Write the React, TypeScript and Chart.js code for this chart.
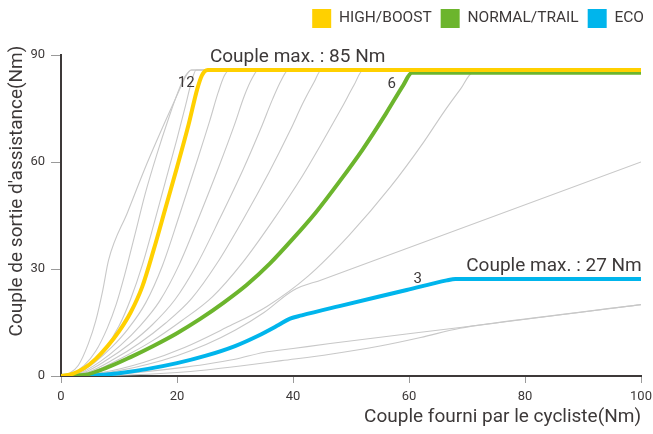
import React, { useEffect, useRef } from 'react';
import { Chart, registerables } from 'chart.js';

Chart.register(...registerables);

// ---- legend / text ----
const LEGEND_NAMES = ['HIGH/BOOST', 'NORMAL/TRAIL', 'ECO'];
const X_TITLE = 'Couple fourni par le cycliste(Nm)';
const Y_TITLE = "Couple de sortie d'assistance(Nm)";
const LEVEL_LABELS = ['12', '6', '3'];
const MAX_LABELS = ['Couple max. : 85 Nm', 'Couple max. : 27 Nm'];

// ---- ticks ----
const X_TICKS = [0, 20, 40, 60, 80, 100];
const Y_TICKS = [0, 30, 60, 90];

// ---- highlighted modes ----
const HIGH_X = [0, 2, 4, 6, 8, 10, 12, 14, 16, 18, 20, 22, 23.5, 24.3, 25.3, 100];
const HIGH_Y = [0, 0.6, 2.2, 4.8, 8.3, 12.5, 17.8, 25, 35.5, 47, 58.5, 70.5, 80.5, 84.3, 85.8, 85.8];

const NORMAL_X = [0, 4, 8, 12, 16, 20, 24, 28, 32, 36, 40, 44, 48, 52, 56, 59, 60.5, 100];
const NORMAL_Y = [0, 0.3, 2.4, 5.3, 8.5, 12, 16, 20.5, 25.5, 31.5, 38.5, 46, 54.5, 63.5, 73.5, 81.5, 85, 85];

const ECO_X = [0, 6, 10, 15, 20, 25, 30, 34, 37.5, 39.5, 41.5, 48, 59.6, 66.5, 68, 100];
const ECO_Y = [0, 0.2, 0.8, 2, 3.6, 5.7, 8.4, 11.3, 14.3, 16.1, 17, 19.6, 24.1, 26.8, 27.2, 27.2];

// ---- other assist levels (grey) ----
const LV15_X = [0, 1.5, 3, 4.7, 6, 7.2, 8.2, 11.5, 14.8, 18, 20.5, 21.5, 22.5, 100];
const LV15_Y = [0, 0.8, 3, 9, 15.5, 24, 32.5, 46, 59.5, 71.5, 80.5, 84, 85.8, 85.8];
const LV14_X = [0, 2, 4, 6, 8, 9.5, 11, 12.8, 14.5, 16.5, 18.5, 20.5, 21.5, 22.5, 100];
const LV14_Y = [0, 0.8, 3, 7, 13.5, 20, 28.5, 40, 51, 62, 72, 81, 84.3, 85.8, 85.8];
const LV13_X = [0, 2.5, 5, 7.5, 10, 12, 14, 16, 18, 20, 21.5, 22.5, 23.3, 100];
const LV13_Y = [0, 0.8, 3.2, 7.5, 14, 21.5, 31, 42.5, 54.5, 66.5, 76, 82.5, 85.8, 85.8];
const LV11_X = [0, 2.9, 5.8, 8.7, 11.6, 14.6, 17.5, 20.4, 23.3, 25.6, 27.1, 28.2, 29.1, 100];
const LV11_Y = [0, 0.8, 3.8, 8, 13.3, 20.5, 31, 45, 59.5, 71.3, 79.5, 84.3, 85.8, 85.8];
const LV10_X = [0, 3.4, 6.8, 10.2, 13.6, 17, 20.4, 23.8, 27.2, 29.9, 31.6, 33, 34, 100];
const LV10_Y = [0, 0.9, 4.1, 8.5, 14, 21, 31.3, 44.6, 58.6, 70.4, 78.5, 83.6, 85.8, 85.8];
const LV9_X = [0, 3.9, 7.8, 11.8, 15.7, 19.6, 23.5, 27.4, 31.4, 34.5, 36.5, 38, 39.2, 100];
const LV9_Y = [0, 0.95, 4.4, 8.9, 14.3, 21.3, 31.5, 44.2, 57.9, 69.6, 77.7, 83, 85.8, 85.8];
const LV8_X = [0, 4.5, 9, 13.5, 18, 22.5, 26.9, 31.4, 35.9, 39.5, 41.8, 43.6, 44.9, 100];
const LV8_Y = [0, 1, 4.6, 9.2, 14.8, 21.7, 31.6, 43.9, 57.2, 68.8, 76.8, 82.3, 85.8, 85.8];
const LV7_X = [0, 5.2, 10.4, 15.6, 20.8, 26.1, 31.3, 36.5, 41.7, 45.8, 48.5, 50.5, 52.1, 100];
const LV7_Y = [0, 1.1, 5, 9.7, 15.5, 22.2, 31.8, 43.5, 56.3, 67.7, 75.5, 81.5, 85.8, 85.8];
const LV5_X = [0, 7.1, 14.2, 21.3, 28.4, 35.5, 42.6, 49.7, 56.8, 62.5, 66, 68.9, 71, 100];
const LV5_Y = [0, 1, 3.8, 8, 13.5, 19.5, 28, 39.5, 53, 65.5, 74, 80.5, 85, 85];
const LV4_X = [0, 5, 10, 15, 20, 25, 30, 35, 40, 45, 100];
const LV4_Y = [0, 0.3, 1.5, 3.3, 5.7, 8.8, 12.8, 17.8, 24, 27, 60];
const LV2_X = [0, 5, 10, 15, 20, 25, 30, 34.9, 40, 46.4, 68.8, 100];
const LV2_Y = [0, 0.15, 0.6, 1.3, 2.2, 3.3, 4.7, 6.6, 7.7, 9.1, 13.6, 20];
const LV1_X = [0, 10, 20, 25, 30.9, 38, 46.4, 55, 62, 68.8, 75, 100];
const LV1_Y = [0, 0.2, 1, 1.7, 2.8, 4.3, 6.1, 8.4, 10.8, 13.4, 14.9, 20];

const GREY_SERIES: [number[], number[]][] = [
  [LV15_X, LV15_Y], [LV14_X, LV14_Y], [LV13_X, LV13_Y], [LV11_X, LV11_Y],
  [LV10_X, LV10_Y], [LV9_X, LV9_Y], [LV8_X, LV8_Y], [LV7_X, LV7_Y],
  [LV5_X, LV5_Y], [LV4_X, LV4_Y], [LV2_X, LV2_Y], [LV1_X, LV1_Y],
];

// ---- styles / layout ----
const YELLOW = '#FFD000';
const GREEN = '#6CB52D';
const BLUE = '#00B5EC';
const GREY = '#C8C8C8';
const TEXT = '#3d3939';
const FONT = 'Roboto';

// annotation anchors (data coords)
const LEVEL_POS = [[21.6, 81.1], [57.0, 80.7], [61.5, 26.2]];
const MAX_POS = [[40.8, 88.1], [85.0, 29.5]];

export default function App() {
  const ref = useRef<HTMLCanvasElement>(null);

  useEffect(() => {
    const canvas = ref.current;
    if (!canvas) return;
    const pts = (xs: number[], ys: number[]) => xs.map((x, i) => ({ x, y: ys[i] }));

    const common = { pointRadius: 0, pointHoverRadius: 0, cubicInterpolationMode: 'monotone' as const, borderJoinStyle: 'round' as const, fill: false };
    const mainSets = [
      { label: LEGEND_NAMES[0], data: pts(HIGH_X, HIGH_Y), borderColor: YELLOW, backgroundColor: YELLOW, borderWidth: 4, ...common },
      { label: LEGEND_NAMES[1], data: pts(NORMAL_X, NORMAL_Y), borderColor: GREEN, backgroundColor: GREEN, borderWidth: 4, ...common },
      { label: LEGEND_NAMES[2], data: pts(ECO_X, ECO_Y), borderColor: BLUE, backgroundColor: BLUE, borderWidth: 4, ...common },
    ];
    const greySets = GREY_SERIES.map(([xs, ys]) => ({
      label: '', data: pts(xs, ys), borderColor: GREY, backgroundColor: GREY, borderWidth: 1.1, ...common,
    }));

    const legendGap = {
      id: 'legendGap',
      beforeInit(chart: any) {
        const l = chart.legend;
        if (!l) return;
        const fit = l.fit;
        l.fit = function () {
          fit.call(this);
          this.height += 17;
        };
      },
    };

    const texts = {
      id: 'texts',
      afterDatasetsDraw(chart: any) {
        const { ctx, scales } = chart;
        const xs = scales.x, ys = scales.y;
        ctx.save();
        ctx.fillStyle = TEXT;
        ctx.textAlign = 'center';
        ctx.textBaseline = 'alphabetic';
        ctx.font = `15px ${FONT}`;
        LEVEL_LABELS.forEach((t, i) => {
          ctx.fillText(t, xs.getPixelForValue(LEVEL_POS[i][0]), ys.getPixelForValue(LEVEL_POS[i][1]));
        });
        ctx.font = `19px ${FONT}`;
        MAX_LABELS.forEach((t, i) => {
          ctx.fillText(t, xs.getPixelForValue(MAX_POS[i][0]), ys.getPixelForValue(MAX_POS[i][1]));
        });
        // y-axis title
        ctx.translate(17, 191);
        ctx.rotate(-Math.PI / 2);
        ctx.textBaseline = 'middle';
        ctx.fillText(Y_TITLE, 0, 0);
        ctx.restore();
      },
    };

    const chart = new Chart(canvas, {
      type: 'line',
      data: { datasets: [...mainSets, ...greySets] as any },
      options: {
        responsive: false,
        animation: false,
        layout: { padding: 0 },
        events: [],
        plugins: {
          tooltip: { enabled: false },
          legend: {
            position: 'top',
            align: 'end',
            labels: {
              boxWidth: 19,
              boxHeight: 19,
              padding: 9,
              color: TEXT,
              font: { family: FONT, size: 15.5 },
              filter: (item: any) => item.datasetIndex < 3,
              generateLabels: (chart: any) =>
                Chart.defaults.plugins.legend.labels.generateLabels(chart).map((it: any) => ({ ...it, lineWidth: 0 })),
            },
          },
        },
        scales: {
          x: {
            type: 'linear',
            min: 0,
            max: 100,
            afterBuildTicks: (s: any) => { s.ticks = X_TICKS.map((v) => ({ value: v })); },
            afterFit: (s: any) => { s.height = 58; s.paddingRight = 12; },
            grid: { display: true, drawOnChartArea: false, drawTicks: true, tickLength: 7, color: '#9a9a9a', lineWidth: 1 },
            border: { display: true, color: TEXT, width: 2 },
            ticks: { color: TEXT, font: { family: FONT, size: 13 }, padding: 6, maxRotation: 0 },
            title: { display: true, text: X_TITLE, align: 'end', color: TEXT, font: { family: FONT, size: 19 }, padding: { top: 0, bottom: 5 } },
          },
          y: {
            type: 'linear',
            min: 0,
            max: 90,
            afterBuildTicks: (s: any) => { s.ticks = Y_TICKS.map((v) => ({ value: v })); },
            afterFit: (s: any) => { s.width = 61; },
            grid: { display: true, drawOnChartArea: false, drawTicks: true, tickLength: 10, color: '#9a9a9a', lineWidth: 1 },
            border: { display: true, color: TEXT, width: 2 },
            ticks: { color: TEXT, font: { family: FONT, size: 13 }, padding: 6 },
            title: { display: false },
          },
        },
      } as any,
      plugins: [legendGap, texts],
    });
    return () => chart.destroy();
  }, []);

  return (
    <div style={{ position: 'absolute', left: 0, top: 0, width: 653, height: 434 }}>
      <canvas ref={ref} width={653} height={434} style={{ display: 'block', width: 653, height: 434 }} />
    </div>
  );
}
